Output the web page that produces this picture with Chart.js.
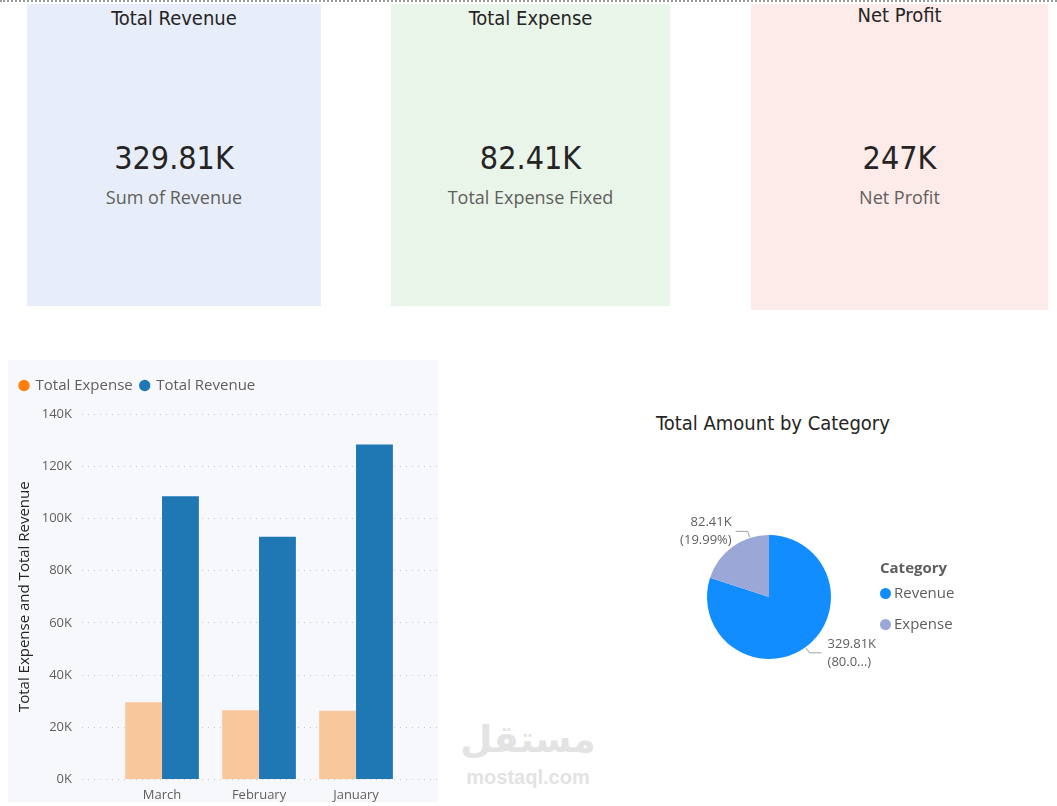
<!DOCTYPE html>
<html>
<head>
<meta charset="utf-8">
<script src="https://cdn.jsdelivr.net/npm/chart.js@4.4.1/dist/chart.umd.min.js"></script>
<style>
  body { margin: 0; width: 1057px; height: 806px; background: #fff; position: relative; overflow: hidden; font-family: "Open Sans", sans-serif; }
  .topline { position: absolute; left: 0; top: 0; width: 1057px; height: 0; border-top: 2px dotted #9a9a9a; }
  .card { position: absolute; text-align: center; color: #252423; }
  .card .t { position: absolute; left: 0; right: 0; font-family: "DejaVu Sans Condensed", "DejaVu Sans", sans-serif; font-size: 20px; }
  .card .v { position: absolute; left: 0; right: 0; top: 135px; font-family: "DejaVu Sans Condensed", "DejaVu Sans", sans-serif; font-size: 32px; }
  .card .s { position: absolute; left: 0; right: 0; top: 181px; font-size: 18px; color: #605E5C; }
  #barPanel { position: absolute; left: 8px; top: 360px; width: 430px; height: 442px; background: #F7F8FB; }
  #barWrap { position: absolute; left: 8px; top: 364px; width: 430px; height: 447px; }
  #pieTitle { position: absolute; left: 600px; width: 346px; top: 411px; text-align: center; font-family: "DejaVu Sans Condensed", "DejaVu Sans", sans-serif; font-size: 20px; color: #252423; }
  #pieWrap { position: absolute; left: 619px; top: 447px; width: 300px; height: 300px; }
  #pieLegend { position: absolute; left: 880px; top: 557px; font-size: 15px; color: #605E5C; }
  #pieLegend .h { font-weight: bold; color: #605E5C; margin-bottom: 4px; }
  #pieLegend .i { height: 31px; line-height: 22px; }
  #pieLegend .d { display: inline-block; width: 11px; height: 11px; border-radius: 50%; margin-right: 3px; vertical-align: -1px; }
  .wm { position: absolute; left: 440px; width: 176px; text-align: center; color: #e3e3e3; font-weight: bold; }
</style>
</head>
<body>
<div class="topline"></div>

<div class="card" style="left:27px;top:4px;width:294px;height:302px;background:#E8EEF9;">
  <div class="t" style="top:2px">Total Revenue</div>
  <div class="v" id="v0"></div>
  <div class="s">Sum of Revenue</div>
</div>
<div class="card" style="left:391px;top:4px;width:279px;height:302px;background:#EAF5EA;">
  <div class="t" style="top:2px">Total Expense</div>
  <div class="v" id="v1"></div>
  <div class="s">Total Expense Fixed</div>
</div>
<div class="card" style="left:751px;top:4px;width:297px;height:306px;background:#FDEBE9;">
  <div class="t" style="top:-1px">Net Profit</div>
  <div class="v" id="v2"></div>
  <div class="s">Net Profit</div>
</div>

<div id="barPanel"></div>
<div id="barWrap"><canvas id="barChart"></canvas></div>

<div id="pieTitle">Total Amount by Category</div>
<div id="pieWrap"><canvas id="pieChart"></canvas></div>
<div id="pieLegend"></div>

<div class="wm" style="top:718px;font-size:37px;font-family:'DejaVu Sans',sans-serif;">مستقل</div>
<div class="wm" style="top:766px;font-size:20px;font-family:'Liberation Sans',sans-serif;">mostaql.com</div>

<script>
const months = ['March', 'February', 'January'];
const expenseValues = [29600, 26500, 26300];
const revenueValues = [108500, 93000, 128300];
const yTicks = [0, 20000, 40000, 60000, 80000, 100000, 120000, 140000];

const categories = ['Revenue', 'Expense'];
const categoryTotals = [329810, 82410];
const categoryColors = ['#118DFF', '#9BA7D6'];

const cardValues = ['329.81K', '82.41K', '247K'];

cardValues.forEach((v, i) => { document.getElementById('v' + i).textContent = v; });

// legend gets extra room below it, like the Power BI visual
const legendGap = {
  id: 'legendGap',
  beforeInit(chart) {
    const fit = chart.legend.fit;
    chart.legend.fit = function () {
      fit.bind(chart.legend)();
      this.height += 11;
    };
  }
};

const barCtx = document.getElementById('barChart').getContext('2d');
new Chart(barCtx, {
  type: 'bar',
  data: {
    datasets: [{
      label: 'Total Expense',
      data: expenseValues.map((y, i) => ({ x: i, y })),
      backgroundColor: '#F8C89C',
      legendColor: '#FF7F0E',
      borderWidth: 0
    }, {
      label: 'Total Revenue',
      data: revenueValues.map((y, i) => ({ x: i, y })),
      backgroundColor: '#1F77B4',
      legendColor: '#1F77B4',
      borderWidth: 0
    }]
  },
  options: {
    responsive: true,
    maintainAspectRatio: false,
    animation: false,
    layout: { padding: { left: 4, right: 0, top: 6, bottom: 0 } },
    datasets: { bar: { categoryPercentage: 0.76, barPercentage: 1 } },
    plugins: {
      tooltip: { enabled: false },
      legend: {
        position: 'top',
        align: 'start',
        labels: {
          usePointStyle: true,
          pointStyle: 'circle',
          boxWidth: 8,
          boxHeight: 8,
          padding: 8,
          color: '#605E5C',
          font: { family: 'Open Sans', size: 15 },
          generateLabels: (chart) => chart.data.datasets.map((ds, i) => ({
            text: ds.label,
            fillStyle: ds.legendColor,
            strokeStyle: ds.legendColor,
            lineWidth: 0,
            pointStyle: 'circle',
            fontColor: '#605E5C',
            datasetIndex: i
          }))
        }
      }
    },
    scales: {
      x: {
        type: 'linear',
        offset: false,
        min: -0.825,
        max: 2.845,
        afterBuildTicks: (axis) => { axis.ticks = months.map((m, i) => ({ value: i })); },
        grid: { display: false, drawTicks: false },
        border: { display: false },
        ticks: {
          color: '#605E5C',
          font: { family: 'Open Sans', size: 13 },
          padding: 8,
          maxRotation: 0,
          autoSkip: false,
          callback: (v) => months[v]
        }
      },
      y: {
        min: 0,
        max: 140000,
        afterBuildTicks: (axis) => { axis.ticks = yTicks.map(v => ({ value: v })); },
        afterFit: (scale) => { scale.width = 70; },
        grid: { color: '#C8C8C8', lineWidth: 1, drawTicks: false },
        border: { display: false, dash: [1, 5] },
        ticks: {
          color: '#605E5C',
          padding: 10,
          font: { family: 'Open Sans', size: 13 },
          callback: (v) => (v / 1000) + 'K'
        },
        title: {
          display: true,
          text: 'Total Expense and Total Revenue',
          color: '#252423',
          font: { family: 'Open Sans', size: 15 },
          padding: { top: 4, bottom: 4 }
        }
      }
    }
  },
  plugins: [legendGap]
});

// outside labels with leader lines for the pie
const labelAnchor = [0.5, 0.75];
const pieLabelsPlugin = {
  id: 'pieLabels',
  afterDraw(chart) {
    const ctx = chart.ctx;
    const meta = chart.getDatasetMeta(0);
    const total = categoryTotals.reduce((a, b) => a + b, 0);
    const pct = ['(80.0...)', '(' + (categoryTotals[1] / total * 100).toFixed(2) + '%)'];
    ctx.save();
    ctx.font = '13px "Open Sans"';
    ctx.fillStyle = '#605E5C';
    ctx.strokeStyle = '#A0A0A0';
    ctx.lineWidth = 1;
    meta.data.forEach((arc, i) => {
      const p = arc.getProps(['x', 'y', 'startAngle', 'endAngle', 'outerRadius']);
      const a = p.startAngle + (p.endAngle - p.startAngle) * labelAnchor[i];
      const r = p.outerRadius;
      const ax = p.x + Math.cos(a) * (r + 1);
      const ay = p.y + Math.sin(a) * (r + 1);
      const ex = p.x + Math.cos(a) * (r + 7);
      const ey = p.y + Math.sin(a) * (r + 7);
      const right = Math.cos(a) >= 0;
      const hx = ex + (right ? 12 : -12);
      ctx.beginPath();
      ctx.moveTo(ax, ay);
      ctx.lineTo(ex, ey);
      ctx.lineTo(hx, ey);
      ctx.stroke();
      ctx.textAlign = right ? 'left' : 'right';
      ctx.textBaseline = 'middle';
      const tx = hx + (right ? 6 : -4);
      const val = (categoryTotals[i] / 1000).toFixed(2) + 'K';
      ctx.fillText(val, tx, ey - 9);
      ctx.fillText(pct[i], tx, ey + 9);
    });
    ctx.restore();
  }
};

const pieCtx = document.getElementById('pieChart').getContext('2d');
new Chart(pieCtx, {
  type: 'pie',
  data: {
    labels: categories,
    datasets: [{
      data: categoryTotals,
      backgroundColor: categoryColors,
      borderWidth: 0
    }]
  },
  options: {
    responsive: true,
    maintainAspectRatio: false,
    animation: false,
    layout: { padding: 88 },
    plugins: { legend: { display: false }, tooltip: { enabled: false } }
  },
  plugins: [pieLabelsPlugin]
});

const leg = document.getElementById('pieLegend');
leg.innerHTML = '<div class="h">Category</div>' + categories.map((c, i) =>
  '<div class="i"><span class="d" style="background:' + categoryColors[i] + '"></span>' + c + '</div>').join('');
</script>
</body>
</html>
